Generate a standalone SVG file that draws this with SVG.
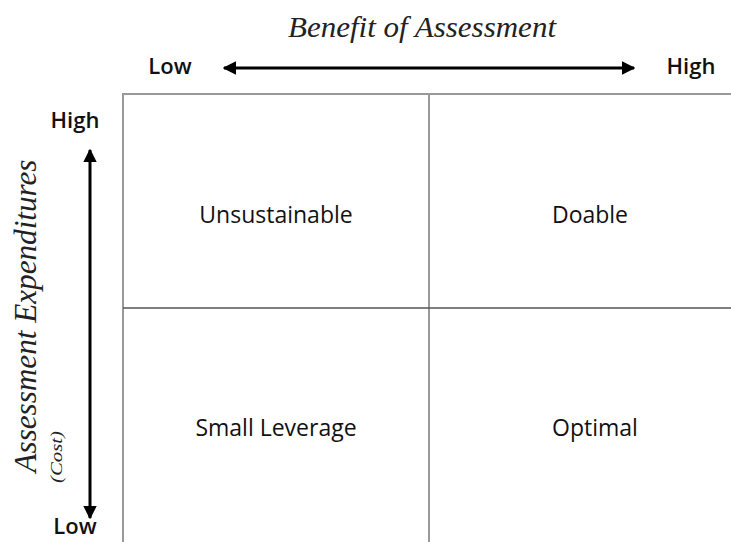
<svg xmlns="http://www.w3.org/2000/svg" width="731" height="542" viewBox="0 0 731 542">
<style>
.ax{font-family:"Liberation Serif",serif;font-style:italic;fill:#222}
.lb{font-family:"Open Sans","Liberation Sans",sans-serif;font-size:23px;fill:#111}
.tk{font-family:"Open Sans","Liberation Sans",sans-serif;font-size:22px;font-weight:600;fill:#111}
.grid{stroke:#999;stroke-width:2;fill:none}
.arr{stroke:#000;stroke-width:3;fill:none}
</style>
<defs>
<marker id="ah" viewBox="0 0 10 10" refX="9" refY="5" markerWidth="4.5" markerHeight="4.5" orient="auto-start-reverse">
<path d="M0,0 L10,5 L0,10 z" fill="#000"/>
</marker>
</defs>
<rect width="731" height="542" fill="#fff"/>
<g id="grid">
<path class="grid" d="M123,542 V94 H731"/>
<path class="grid" d="M429,94 V542"/>
<path d="M123,308 H731" stroke="#555" stroke-width="1.5"/>
</g>
<g id="connectors">
<line class="arr" x1="224" y1="68" x2="634" y2="68" marker-start="url(#ah)" marker-end="url(#ah)"/>
<line class="arr" x1="90" y1="150" x2="90" y2="518" marker-start="url(#ah)" marker-end="url(#ah)"/>
</g>
<g id="axis-x">
<text class="ax" x="422" y="37" font-size="30" text-anchor="middle" textLength="268" lengthAdjust="spacingAndGlyphs">Benefit of Assessment</text>
<text class="tk" x="170" y="74" text-anchor="middle">Low</text>
<text class="tk" x="691" y="74" text-anchor="middle">High</text>
</g>
<g id="axis-y">
<text class="ax" transform="translate(36,316) rotate(-90)" font-size="31" text-anchor="middle" textLength="313" lengthAdjust="spacingAndGlyphs">Assessment Expenditures</text>
<text class="ax" transform="translate(62,457) rotate(-90)" font-size="17" text-anchor="middle" textLength="52" lengthAdjust="spacingAndGlyphs">(Cost)</text>
<text class="tk" x="75" y="128" text-anchor="middle">High</text>
<text class="tk" x="75" y="534" text-anchor="middle">Low</text>
</g>
<g id="q-unsustainable"><text class="lb" x="276" y="223" text-anchor="middle">Unsustainable</text></g>
<g id="q-doable"><text class="lb" x="590" y="223" text-anchor="middle">Doable</text></g>
<g id="q-small-leverage"><text class="lb" x="276" y="436" text-anchor="middle">Small Leverage</text></g>
<g id="q-optimal"><text class="lb" x="595" y="436" text-anchor="middle">Optimal</text></g>
</svg>
